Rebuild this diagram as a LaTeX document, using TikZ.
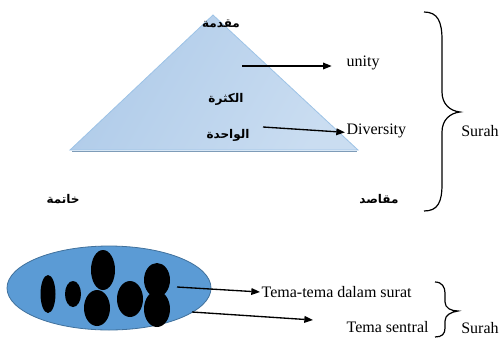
\documentclass[tikz,border=0pt]{standalone}
\usepackage{fontspec}
\setmainfont{Liberation Serif}
\newfontfamily\arabicfont[Script=Arabic]{DejaVu Sans}
\TeXXeTstate=1
\usetikzlibrary{arrows.meta,positioning}

\definecolor{trilight}{HTML}{E4EEF8}
\definecolor{tridark}{HTML}{AFCBE9}
\definecolor{trimid}{HTML}{CADDF1}
\definecolor{triedge}{HTML}{9DC3E6}
\definecolor{ovalfill}{HTML}{5B9BD5}
\definecolor{ovaledge}{HTML}{41719C}

\tikzset{
arlabel/.style={font=\arabicfont\bfseries\fontsize{9}{10}\selectfont, inner sep=1pt},
enlabel/.style={inner sep=1pt},
pointer/.style={-{Triangle[length=6.5pt,width=5pt]}, line width=1pt},
blob/.style={fill=black, draw=none},
}

\begin{document}
\begin{tikzpicture}[x=0.75pt,y=-0.75pt,font=\fontsize{12}{14}\selectfont]

\useasboundingbox (0,0) rectangle (502,339);

%%%%%%%%%%%%%%%%%%%%%%%%%%%%%%%%%%%%%%%%%%%%%%%%%%%%%%%%%%%%
% TRIANGLE
%%%%%%%%%%%%%%%%%%%%%%%%%%%%%%%%%%%%%%%%%%%%%%%%%%%%%%%%%%%%

\shade[
left color=tridark,
middle color=trilight,
right color=trimid,
shading angle=60
]
(213,15) -- (358,150) -- (70,150) -- cycle;

\draw[triedge, line width=0.6pt] (213,15) -- (358,150) -- (70,150) -- cycle;
\draw[triedge!80!black, line width=1.2pt] (72,151.5) -- (357,151.5);

\node[arlabel] (muqaddima) at (221,24) {\beginR مقدمة\endR};
\node[arlabel] (kathra) at (226,99) {\beginR الكثرة\endR};
\node[arlabel] (wahida) at (228,135) {\beginR الواحدة\endR};
\node[arlabel] (khatima) at (63,199) {\beginR خاتمة\endR};
\node[arlabel] (maqasid) at (379,199) {\beginR مقاصد\endR};

%%%%%%%%%%%%%%%%%%%%%%%%%%%%%%%%%%%%%%%%%%%%%%%%%%%%%%%%%%%%
% Unity / Diversity
%%%%%%%%%%%%%%%%%%%%%%%%%%%%%%%%%%%%%%%%%%%%%%%%%%%%%%%%%%%%

\node[enlabel, anchor=west] (unity) at (345,63) {unity};
\node[enlabel, anchor=west] (diversity) at (345,131) {Diversity};

\coordinate (unitystart) at (242,66);
\coordinate (diversitystart) at (263,127);

\draw[pointer, shorten >=10pt] (unitystart) -- (unitystart -| unity.west);
\draw[pointer] (diversitystart) -- ([yshift=-1pt]diversity.west);

%%%%%%%%%%%%%%%%%%%%%%%%%%%%%%%%%%%%%%%%%%%%%%%%%%%%%%%%%%%%
% Big brace
%%%%%%%%%%%%%%%%%%%%%%%%%%%%%%%%%%%%%%%%%%%%%%%%%%%%%%%%%%%%

\draw[line width=0.9pt]
(424,12) .. controls (438,12) and (442,22) .. (442,40)
-- (442,92) .. controls (442,104) and (450,111) .. (460,112)
.. controls (450,113) and (442,120) .. (442,132)
-- (442,184) .. controls (442,202) and (438,211) .. (424,211);

\node[enlabel] (surahtop) at (480,131) {Surah};

%%%%%%%%%%%%%%%%%%%%%%%%%%%%%%%%%%%%%%%%%%%%%%%%%%%%%%%%%%%%
% Ellipse with themes
%%%%%%%%%%%%%%%%%%%%%%%%%%%%%%%%%%%%%%%%%%%%%%%%%%%%%%%%%%%%

\draw[fill=ovalfill, draw=ovaledge, line width=0.6pt] (109,288) ellipse [x radius=102, y radius=42];

\fill[blob] (48,294) ellipse [x radius=7.5, y radius=19];
\fill[blob] (73,294) ellipse [x radius=8, y radius=13];
\fill[blob] (103,270) ellipse [x radius=12, y radius=20];
\fill[blob] (97,308) ellipse [x radius=13, y radius=18];
\fill[blob] (130,299) ellipse [x radius=13, y radius=18];
\fill[blob] (157,280) ellipse [x radius=13, y radius=17];
\fill[blob] (157,309) ellipse [x radius=13, y radius=18];

\node[enlabel, anchor=west] (temalist) at (260,292) {Tema-tema dalam surat};
\node[enlabel, anchor=west] (temasentral) at (345,327) {Tema sentral};

\coordinate (temaliststart) at (177,287);
\coordinate (temasentralstart) at (192,312);
\coordinate (temasentralend) at (313,320);

\draw[pointer] (temaliststart) -- (temalist.west);
\draw[pointer] (temasentralstart) -- (temasentralend);

%%%%%%%%%%%%%%%%%%%%%%%%%%%%%%%%%%%%%%%%%%%%%%%%%%%%%%%%%%%%
% Small brace
%%%%%%%%%%%%%%%%%%%%%%%%%%%%%%%%%%%%%%%%%%%%%%%%%%%%%%%%%%%%

\draw[line width=0.9pt]
(435,282) .. controls (442,282) and (445,287) .. (445,293)
-- (445,302) .. controls (445,308) and (451,311) .. (458,311)
.. controls (451,312) and (445,315) .. (445,321)
-- (445,328) .. controls (445,334) and (442,337) .. (435,337);

\node[enlabel] (surahbottom) at (480,328) {Surah};

\end{tikzpicture}
\end{document}
